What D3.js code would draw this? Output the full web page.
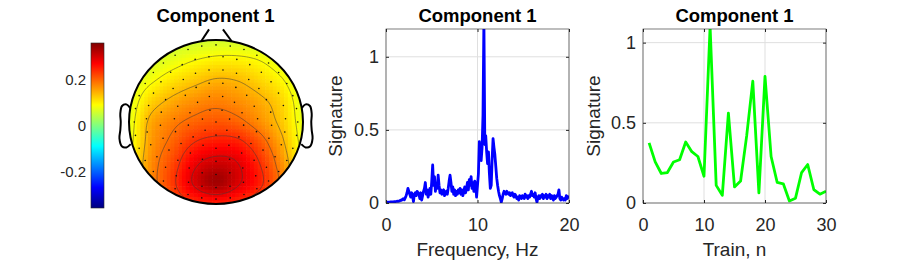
<!DOCTYPE html>
<html>
<head>
<meta charset="utf-8">
<style>
    body { margin: 0; background: #fff; }
    svg { display: block; font-family: "Liberation Sans", Arial, sans-serif; }
</style>
</head>
<body>
<svg id="fig" width="913" height="261"></svg>

<script src="https://cdn.jsdelivr.net/npm/d3@7"></script>
<script>
    // ---------- data ----------
    // topography: values on a 9x9 grid, rows top (front) to bottom (back), cols left to right
    var topoX = [-1, -0.75, -0.5, -0.25, 0, 0.25, 0.5, 0.75, 1];
    var topoY = [1, 0.75, 0.5, 0.25, 0, -0.25, -0.5, -0.75, -1];
    var topoValues = [
        [0.04, 0.04, 0.05, 0.055, 0.06, 0.06, 0.055, 0.045, 0.04],
        [0.05, 0.06, 0.075, 0.09, 0.1, 0.1, 0.09, 0.07, 0.05],
        [0.06, 0.085, 0.11, 0.13, 0.145, 0.14, 0.12, 0.095, 0.06],
        [0.07, 0.12, 0.15, 0.17, 0.18, 0.17, 0.15, 0.12, 0.07],
        [0.075, 0.15, 0.18, 0.2, 0.21, 0.2, 0.17, 0.13, 0.075],
        [0.08, 0.16, 0.2, 0.24, 0.255, 0.25, 0.21, 0.15, 0.08],
        [0.09, 0.17, 0.22, 0.28, 0.305, 0.29, 0.24, 0.17, 0.09],
        [0.09, 0.17, 0.23, 0.295, 0.335, 0.295, 0.25, 0.18, 0.09],
        [0.09, 0.15, 0.21, 0.24, 0.25, 0.24, 0.21, 0.15, 0.09]
    ];
    var contourLevels = [0.09, 0.14, 0.19, 0.24, 0.29];
    var colorLimits = [-0.36, 0.36];
    var cbarTicks = [-0.2, 0, 0.2];
    // electrode rings: [radius, count]
    var elecRings = [[0, 1], [0.16, 7], [0.32, 13], [0.48, 19], [0.64, 25], [0.8, 31], [0.94, 36]];

    // spectrum, 0..20 Hz every 0.1 Hz
    var specStep = 0.1;
    var specValues = [
        0.005, 0.005, 0.005, 0.006, 0.006, 0.007, 0.007, 0.008, 0.008, 0.009, 0.01, 0.01, 0.012, 0.011, 0.013, 0.015,
        0.02, 0.018, 0.025, 0.03, 0.022,
        0.035, 0.05, 0.07, 0.1, 0.08,
        0.06, 0.04, 0.07, 0.05, 0.01,
        0.06, 0.07, 0.05, 0.08, 0.07,
        0.06, 0.03, 0.07, 0.02, 0.05,
        0.08, 0.1, 0.14, 0.06, 0.09,
        0.04, 0.07, 0.1, 0.06, 0.15,
        0.26, 0.12, 0.18, 0.08, 0.13,
        0.1, 0.19, 0.12, 0.07, 0.09,
        0.06, 0.08, 0.09, 0.05, 0.07,
        0.08, 0.06, 0.1, 0.15, 0.19,
        0.14, 0.08, 0.11, 0.06, 0.09,
        0.05, 0.08, 0.06, 0.09, 0.07,
        0.1, 0.06, 0.09, 0.05, 0.08,
        0.11, 0.07, 0.1, 0.14, 0.09,
        0.16, 0.12, 0.18, 0.1, 0.14,
        0.08, 0.15, 0.13, 0.04, 0.12,
        0.2, 0.42, 0.3, 0.29, 0.38,
        0.6, 1.25, 0.4, 0.46, 0.35,
        0.27, 0.35, 0.2, 0.1, 0.12,
        0.3, 0.44, 0.38, 0.33, 0.25,
        0.17, 0.12, 0.08, 0.05, 0.03,
        0.005, 0.03, 0.06, 0.08, 0.07,
        0.06, 0.08, 0.07, 0.06, 0.07,
        0.05, 0.06, 0.07, 0.05, 0.04,
        0.06, 0.05, 0.03, 0.04, 0.02,
        0.05, 0.04, 0.03, 0.05, 0.04,
        0.03, 0.06, 0.04, 0.05, 0.03,
        0.05, 0.04, 0.06, 0.08, 0.05,
        0.06, 0.04, 0.07, 0.03, 0.005,
        0.04, 0.05, 0.03, 0.05, 0.04,
        0.06, 0.03, 0.05, 0.04, 0.06,
        0.03, 0.05, 0.04, 0.06, 0.03,
        0.05, 0.04, 0.02, 0.05, 0.03,
        0.04, 0.05, 0.06, 0.09, 0.03,
        0.02, 0.04, 0.03, 0.02, 0.03,
        0.02, 0.05, 0.03, 0.04, 0.05
    ];
    var specXTicks = [0, 10, 20];
    var specYTicks = [0, 0.5, 1];

    // signature per train
    var trainN = [1, 2, 3, 4, 5, 6, 7, 8, 9, 10, 11, 12, 13, 14, 15, 16, 17, 18, 19, 20, 21, 22, 23, 24, 25, 26, 27, 28, 29, 30];
    var trainValues = [0.375, 0.256, 0.184, 0.19, 0.256, 0.27, 0.38, 0.32, 0.29, 0.167,
        1.1, 0.11, 0.048, 0.56, 0.1, 0.137, 0.42, 0.76, 0.063, 0.79,
        0.29, 0.128, 0.12, 0.013, 0.03, 0.19, 0.24, 0.084, 0.055, 0.073];
    var trainXTicks = [0, 10, 20, 30];
    var trainYTicks = [0, 0.5, 1];

    var title = "Component 1";

    // ---------- helpers ----------
    var svg = d3.select("#fig");
    var defs = svg.append("defs");

    function jet(t) {
        t = Math.max(0, Math.min(1, t));
        var c = function (v) { return Math.round(255 * Math.max(0, Math.min(1, v))); };
        return d3.rgb(c(1.5 - Math.abs(4 * t - 3)), c(1.5 - Math.abs(4 * t - 2)), c(1.5 - Math.abs(4 * t - 1))) + "";
    }
    var colorT = d3.scaleLinear().domain(colorLimits).range([0, 1]).clamp(true);

    function cubic(p0, p1, p2, p3, t) {
        return p1 + 0.5 * t * (p2 - p0 + t * (2 * p0 - 5 * p1 + 4 * p2 - p3 + t * (3 * (p1 - p2) + p3 - p0)));
    }
    var nRows = topoY.length, nCols = topoX.length;
    var gxScale = d3.scaleLinear().domain([topoX[0], topoX[nCols - 1]]).range([0, nCols - 1]);
    var gyScale = d3.scaleLinear().domain([topoY[0], topoY[nRows - 1]]).range([0, nRows - 1]);
    function cell(r, c) {
        r = Math.max(0, Math.min(nRows - 1, r));
        c = Math.max(0, Math.min(nCols - 1, c));
        return topoValues[r][c];
    }
    function field(u, v) {
        var gx = Math.max(0, Math.min(nCols - 1, gxScale(u)));
        var gy = Math.max(0, Math.min(nRows - 1, gyScale(v)));
        var c0 = Math.floor(gx), r0 = Math.floor(gy);
        var tx = gx - c0, ty = gy - r0;
        var rows = [];
        for (var k = -1; k <= 2; k++) {
            rows.push(cubic(cell(r0 + k, c0 - 1), cell(r0 + k, c0), cell(r0 + k, c0 + 1), cell(r0 + k, c0 + 2), tx));
        }
        return cubic(rows[0], rows[1], rows[2], rows[3], ty);
    }

    function titleText(cx, txt) {
        svg.append("text").attr("x", cx).attr("y", 22).attr("text-anchor", "middle")
            .attr("font-weight", "bold").attr("font-size", 18.5).attr("fill", "#000").text(txt);
    }

    // ---------- topoplot ----------
    var hx = d3.scaleLinear().domain([-1, 1]).range([129, 303]);
    var hy = d3.scaleLinear().domain([-1, 1]).range([204, 40]);
    var cx0 = hx(0), cy0 = hy(0), rx = hx(1) - hx(0), ry = hy(0) - hy(1);

    defs.append("clipPath").attr("id", "headClip")
        .append("ellipse").attr("cx", cx0).attr("cy", cy0).attr("rx", rx).attr("ry", ry);

    var topo = svg.append("g");
    var img = topo.append("g").attr("clip-path", "url(#headClip)");
    var N = 46;
    var cells = [];
    for (var j = 0; j < N; j++) {
        for (var i = 0; i < N; i++) {
            var u = -1 + (i + 0.5) * 2 / N, v = 1 - (j + 0.5) * 2 / N;
            cells.push({i: i, j: j, val: field(u, v)});
        }
    }
    var cw = (hx(1) - hx(-1)) / N, ch = (hy(-1) - hy(1)) / N;
    img.selectAll("rect").data(cells).enter().append("rect")
        .attr("x", function (d) { return hx(-1) + d.i * cw; })
        .attr("y", function (d) { return hy(1) + d.j * ch; })
        .attr("width", cw + 0.6).attr("height", ch + 0.6)
        .attr("fill", function (d) { return jet(colorT(d.val)); });

    // contours
    var M = 80, ext = 1.1;
    var grid = new Array(M * M);
    for (var j2 = 0; j2 < M; j2++) {
        for (var i2 = 0; i2 < M; i2++) {
            grid[j2 * M + i2] = field(-ext + i2 * 2 * ext / (M - 1), ext - j2 * 2 * ext / (M - 1));
        }
    }
    var contours = d3.contours().size([M, M]).smooth(true).thresholds(contourLevels)(grid);
    var proj = d3.geoTransform({
        point: function (x, y) {
            this.stream.point(hx(-ext + (x - 0.5) * 2 * ext / (M - 1)), hy(ext - (y - 0.5) * 2 * ext / (M - 1)));
        }
    });
    img.append("g").selectAll("path").data(contours).enter().append("path")
        .attr("d", d3.geoPath(proj))
        .attr("fill", "none").attr("stroke", "#3c3c3c").attr("stroke-width", 0.6).attr("stroke-opacity", 0.85);

    // electrodes
    var elecs = [];
    elecRings.forEach(function (ring) {
        for (var k = 0; k < ring[1]; k++) {
            var a = (k + 0.5 * (ring[1] % 2)) * 2 * Math.PI / ring[1];
            elecs.push([ring[0] * Math.sin(a), ring[0] * Math.cos(a)]);
        }
    });
    topo.append("g").selectAll("circle").data(elecs).enter().append("circle")
        .attr("cx", function (d) { return hx(d[0]); })
        .attr("cy", function (d) { return hy(d[1]); })
        .attr("r", 0.8).attr("fill", "#111");

    // head outline, nose, ears
    topo.append("ellipse").attr("cx", cx0).attr("cy", cy0).attr("rx", rx).attr("ry", ry)
        .attr("fill", "none").attr("stroke", "#000").attr("stroke-width", 2);
    var outline = d3.line().x(function (d) { return hx(d[0]); }).y(function (d) { return hy(d[1]); });
    var noseL = [[-0.17, 0.985], [-0.08, 1.13]], noseR = [[0.08, 1.13], [0.18, 0.985]];
    var earL = [[-0.985, 0.17], [-1.03, 0.215], [-1.08, 0.195], [-1.1, 0.1], [-1.095, 0.0], [-1.1, -0.1],
        [-1.11, -0.2], [-1.08, -0.3], [-1.03, -0.31], [-0.98, -0.27]];
    var earR = earL.map(function (p) { return [-p[0], p[1]]; });
    [noseL, noseR].forEach(function (p) {
        topo.append("path").attr("d", outline(p)).attr("fill", "none").attr("stroke", "#000").attr("stroke-width", 2);
    });
    [earL, earR].forEach(function (p) {
        topo.append("path").attr("d", outline.curve(d3.curveCatmullRom)(p)).attr("fill", "none")
            .attr("stroke", "#000").attr("stroke-width", 2);
    });
    titleText(215.5, title);

    // colorbar
    var cbY = d3.scaleLinear().domain(colorLimits).range([208, 43]);
    var grad = defs.append("linearGradient").attr("id", "jetGrad")
        .attr("x1", 0).attr("y1", 1).attr("x2", 0).attr("y2", 0);
    grad.selectAll("stop").data(d3.range(0, 1.0001, 1 / 32)).enter().append("stop")
        .attr("offset", function (d) { return d; })
        .attr("stop-color", function (d) { return jet(d); });
    svg.append("rect").attr("x", 91).attr("y", cbY(colorLimits[1])).attr("width", 13)
        .attr("height", cbY(colorLimits[0]) - cbY(colorLimits[1]))
        .attr("fill", "url(#jetGrad)").attr("stroke", "#262626").attr("stroke-width", 0.6);
    svg.append("g").attr("transform", "translate(91,0)")
        .call(d3.axisLeft(cbY).tickValues(cbarTicks).tickSize(0).tickPadding(5)
            .tickFormat(function (d) { return String(d); }))
        .call(function (g) {
            g.select(".domain").remove();
            g.selectAll("text").attr("font-size", 15).attr("fill", "#262626")
                .attr("font-family", "Liberation Sans, Arial, sans-serif");
        });

    // ---------- line charts ----------
    function lineChart(opt) {
        var x = d3.scaleLinear().domain(opt.xDomain).range(opt.xRange);
        var y = d3.scaleLinear().domain(opt.yDomain).range([203, 29]);
        var g = svg.append("g");
        var id = "clip" + opt.name;
        defs.append("clipPath").attr("id", id).append("rect")
            .attr("x", opt.xRange[0]).attr("y", 29).attr("width", opt.xRange[1] - opt.xRange[0]).attr("height", 174);

        // grid
        g.append("g").selectAll("line").data(opt.xTicks).enter().append("line")
            .attr("x1", x).attr("x2", x).attr("y1", 29).attr("y2", 203)
            .attr("stroke", "#dfdfdf").attr("stroke-width", 1);
        g.append("g").selectAll("line").data(opt.yTicks).enter().append("line")
            .attr("y1", y).attr("y2", y).attr("x1", opt.xRange[0]).attr("x2", opt.xRange[1])
            .attr("stroke", "#dfdfdf").attr("stroke-width", 1);

        // data
        g.append("path").datum(opt.points).attr("clip-path", "url(#" + id + ")")
            .attr("d", d3.line().x(function (d) { return x(d[0]); }).y(function (d) { return y(d[1]); }))
            .attr("fill", "none").attr("stroke", opt.color).attr("stroke-width", 2.8)
            .attr("stroke-linejoin", "round");

        // axes
        var fmt = function (d) { return String(d); };
        var styleAxis = function (a) {
            a.select(".domain").remove();
            a.selectAll("line").attr("stroke", "#262626");
            a.selectAll("text").attr("font-size", 18).attr("fill", "#262626")
                .attr("font-family", "Liberation Sans, Arial, sans-serif");
        };
        g.append("g").attr("transform", "translate(0,203)")
            .call(d3.axisBottom(x).tickValues(opt.xTicks).tickSize(-3).tickPadding(15).tickFormat(fmt))
            .call(styleAxis);
        g.append("g").attr("transform", "translate(" + opt.xRange[0] + ",0)")
            .call(d3.axisLeft(y).tickValues(opt.yTicks).tickSize(-3).tickPadding(7).tickFormat(fmt))
            .call(styleAxis);
        g.append("g").attr("transform", "translate(0,29)")
            .call(d3.axisTop(x).tickValues(opt.xTicks).tickSize(-3).tickFormat(""))
            .call(styleAxis);
        g.append("g").attr("transform", "translate(" + opt.xRange[1] + ",0)")
            .call(d3.axisRight(y).tickValues(opt.yTicks).tickSize(-3).tickFormat(""))
            .call(styleAxis);
        g.append("rect").attr("x", opt.xRange[0]).attr("y", 29)
            .attr("width", opt.xRange[1] - opt.xRange[0]).attr("height", 174)
            .attr("fill", "none").attr("stroke", "#262626").attr("stroke-width", 0.6);

        // labels
        var mid = (opt.xRange[0] + opt.xRange[1]) / 2;
        g.append("text").attr("x", mid).attr("y", 256).attr("text-anchor", "middle")
            .attr("font-size", 19).attr("fill", "#262626").text(opt.xLabel);
        g.append("text").attr("transform", "translate(" + opt.yLabelX + ",116) rotate(-90)")
            .attr("text-anchor", "middle").attr("font-size", 19).attr("fill", "#262626").text(opt.yLabel);
        titleText(mid, title);
    }

    lineChart({
        name: "spec",
        xDomain: [0, 20], xRange: [386, 569], yDomain: [0, 1.19],
        xTicks: specXTicks, yTicks: specYTicks,
        points: specValues.map(function (v, i) { return [i * specStep, v]; }),
        color: "#0000ff", xLabel: "Frequency, Hz", yLabel: "Signature", yLabelX: 342
    });
    lineChart({
        name: "train",
        xDomain: [0, 30], xRange: [643, 826], yDomain: [0, 1.085],
        xTicks: trainXTicks, yTicks: trainYTicks,
        points: trainN.map(function (n, i) { return [n, trainValues[i]]; }),
        color: "#00ff00", xLabel: "Train, n", yLabel: "Signature", yLabelX: 600
    });
</script>
</body>
</html>
